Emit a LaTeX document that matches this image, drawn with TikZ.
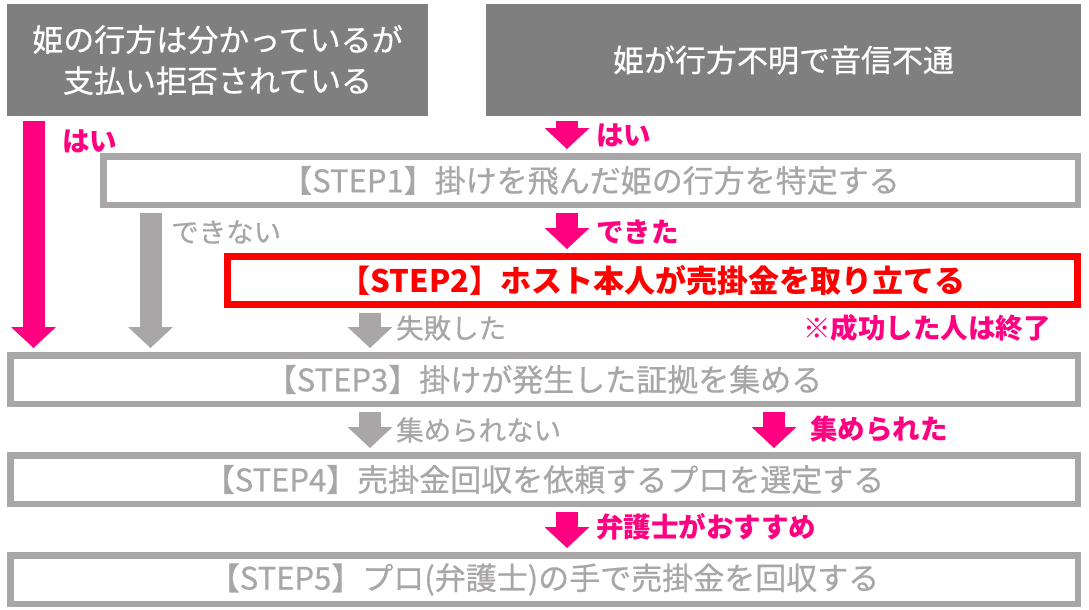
\documentclass[tikz,border=0pt]{standalone}
\usepackage{fontspec}
\setmainfont{Noto Sans CJK JP}
\newfontfamily\medfont{Noto Sans CJK JP}[FakeBold=0.6]
\usepackage{tikz}
\usetikzlibrary{arrows.meta,positioning}
\definecolor{headgray}{RGB}{127,127,127}
\definecolor{stepgray}{RGB}{168,166,166}
\definecolor{hotpink}{RGB}{255,0,128}
\definecolor{stepred}{RGB}{255,0,0}

\begin{document}
\begin{tikzpicture}[
  x=1pt, y=-1pt,
  head/.style={fill=headgray,text=white,inner sep=0pt,minimum height=112pt,align=center,font=\medfont\fontsize{31}{41}\selectfont},
  stepbox/.style={draw=stepgray,line width=6.5pt,fill=white,text=stepgray,inner sep=0pt,minimum height=48.5pt,font=\medfont\fontsize{31}{36}\selectfont},
  keybox/.style={stepbox,draw=stepred,text=stepred,line width=7pt,minimum height=48pt,font=\fontsize{31}{36}\selectfont\bfseries},
  pinkarr/.style={line width=22pt,draw=hotpink,-{Triangle[length=21pt,width=45pt,line width=0pt]},shorten <=5pt,shorten >=4pt},
  grayarr/.style={pinkarr,draw=stepgray},
  pinklbl/.style={text=hotpink,inner sep=0pt,anchor=west,font=\fontsize{27.5}{30}\selectfont\bfseries},
  graylbl/.style={pinklbl,text=stepgray,font=\medfont\fontsize{27.5}{30}\selectfont}
]
  \useasboundingbox (0,0) rectangle (1089,610);

  \node[head, minimum width=421pt] (lost) at (217.5,60) {姫の行方は分かっているが\\支払い拒否されている};
  \node[head, minimum width=595pt] (gone) at (783.5,60) {姫が行方不明で音信不通};
  \node[stepbox, minimum width=974.5pt] (find) at (590.5,180.5) {【STEP1】掛けを飛んだ姫の行方を特定する};
  \node[keybox, minimum width=850pt] (self) at (652.5,280.5) {【STEP2】ホスト本人が売掛金を取り立てる};
  \node[stepbox, minimum width=1067.5pt] (proof) at (544,379.5) {【STEP3】掛けが発生した証拠を集める};
  \node[stepbox, minimum width=1067.5pt] (pro) at (544,479.5) {【STEP4】売掛金回収を依頼するプロを選定する};
  \node[stepbox, minimum width=1067.5pt] (collect) at (544,579.5) {【STEP5】プロ(弁護士)の手で売掛金を回収する};

  \coordinate (yescol) at (33.5,0);
  \coordinate (nocol) at (150.5,0);
  \coordinate (midcol) at (567,0);
  \coordinate (failcol) at (370,0);
  \coordinate (gotcol) at (774,0);

  \draw[pinkarr] (lost.south -| yescol) -- (proof.north -| yescol);
  \draw[grayarr] (find.south -| nocol) -- (proof.north -| nocol);
  \draw[pinkarr] (gone.south -| midcol) -- (find.north -| midcol);
  \draw[pinkarr] (find.south -| midcol) -- (self.north -| midcol);
  \draw[grayarr] (self.south -| failcol) -- (proof.north -| failcol);
  \draw[grayarr] (proof.south -| failcol) -- (pro.north -| failcol);
  \draw[pinkarr] (proof.south -| gotcol) -- (pro.north -| gotcol);
  \draw[pinkarr] (pro.south -| midcol) -- (collect.north -| midcol);

  \node[pinklbl] (yesl) at (62,141) {はい};
  \node[pinklbl] (yesr) at (596,135) {はい};
  \node[graylbl] (cannot) at (171,232) {できない};
  \node[pinklbl] (can) at (596,232) {できた};
  \node[graylbl] (failed) at (396,328) {失敗した};
  \node[pinklbl] (done) at (803,328) {※成功した人は終了};
  \node[graylbl] (nogot) at (396,430) {集められない};
  \node[pinklbl] (got) at (810,429) {集められた};
  \node[pinklbl] (lawyer) at (596,527) {弁護士がおすすめ};
\end{tikzpicture}
\end{document}
